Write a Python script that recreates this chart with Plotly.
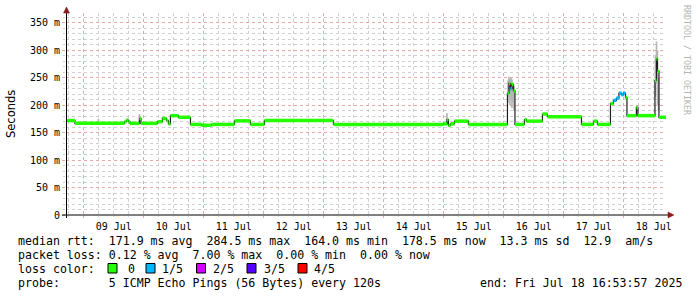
import plotly.graph_objects as go
import pandas as pd

# ---------------- data ----------------
med_time = ["2025-07-08 16:54", "2025-07-08 20:29", "2025-07-09 16:17", "2025-07-09 17:05",
            "2025-07-09 17:53", "2025-07-09 18:29", "2025-07-09 22:17", "2025-07-09 22:53",
            "2025-07-10 05:29", "2025-07-10 07:29", "2025-07-10 09:05", "2025-07-10 09:53",
            "2025-07-10 10:41", "2025-07-10 13:53", "2025-07-10 18:41", "2025-07-10 23:05",
            "2025-07-11 03:05", "2025-07-11 12:17", "2025-07-11 18:41", "2025-07-12 00:17",
            "2025-07-13 03:53", "2025-07-14 23:53", "2025-07-15 01:17", "2025-07-15 01:53",
            "2025-07-15 02:41", "2025-07-15 04:17", "2025-07-15 09:53", "2025-07-16 01:29",
            "2025-07-16 02:05", "2025-07-16 02:41", "2025-07-16 03:17", "2025-07-16 03:53",
            "2025-07-16 04:29", "2025-07-16 08:17", "2025-07-16 09:05", "2025-07-16 15:29",
            "2025-07-16 17:29", "2025-07-17 07:05", "2025-07-17 11:53", "2025-07-17 13:29",
            "2025-07-17 18:41", "2025-07-17 19:53", "2025-07-17 21:05", "2025-07-17 22:05",
            "2025-07-17 23:05", "2025-07-17 23:53", "2025-07-18 00:41", "2025-07-18 01:17",
            "2025-07-18 05:05", "2025-07-18 05:41", "2025-07-18 12:29", "2025-07-18 13:05",
            "2025-07-18 13:29", "2025-07-18 14:05", "2025-07-18 16:54"]
med_ms = [172, 167, 170, 173, 170, 167, 176, 167,
          170, 176, 172, 166, 181, 178, 165, 163.5,
          165, 171.5, 165, 172, 165, 166, 174, 163,
          166, 171, 165, 222, 240, 230, 238, 226,
          165, 174, 171, 184, 179, 165, 171, 165,
          203, 209, 213, 222, 219, 222, 214, 181,
          196, 181, 245, 284, 262, 178, 178]
med_loss = [0, 0, 0, 0, 0, 0, 0, 0,
            0, 0, 0, 0, 0, 0, 0, 0,
            0, 0, 0, 0, 0, 0, 0, 0,
            0, 0, 0, 0, 0, 1, 0, 0,
            0, 0, 0, 0, 0, 0, 0, 0,
            0, 1, 1, 1, 1, 1, 0, 0,
            0, 0, 0, 0, 0, 0, 0]

smoke_time = ["2025-07-09 05:53", "2025-07-09 22:17", "2025-07-15 01:17",
              "2025-07-16 01:41", "2025-07-16 02:05", "2025-07-16 02:29", "2025-07-16 02:53",
              "2025-07-16 03:17", "2025-07-16 03:41", "2025-07-16 04:05",
              "2025-07-18 05:05", "2025-07-18 12:41", "2025-07-18 13:05", "2025-07-18 13:29",
              "2025-07-18 13:53"]
smoke_lo_ms = [167, 167, 165, 205, 215, 200, 210, 195, 205, 190, 182, 215, 240, 200, 190]
smoke_hi_ms = [175, 184, 186, 245, 252, 248, 250, 247, 240, 235, 198, 290, 316, 300, 250]

loss_labels = ["0", "1/5", "2/5", "3/5", "4/5"]
loss_colors = ["#26ff00", "#00b8ff", "#d400ff", "#5500ff", "#ff0000"]

y_tick_vals = [0, 0.05, 0.10, 0.15, 0.20, 0.25, 0.30, 0.35]
y_tick_text = ["0", "50 m", "100 m", "150 m", "200 m", "250 m", "300 m", "350 m"]

x_start = "2025-07-08 16:53:57"
x_end = "2025-07-18 16:53:57"

legend_lines = [
    "median rtt:  171.9 ms avg  284.5 ms max  164.0 ms min  178.5 ms now  13.3 ms sd  12.9  am/s",
    "packet loss: 0.12 % avg  7.00 % max  0.00 % min  0.00 % now",
    "loss color:",
    "probe:       5 ICMP Echo Pings (56 Bytes) every 120s",
]
end_text = "end: Fri Jul 18 16:53:57 2025"

# ---------------- geometry helpers ----------------
W, H = 697, 297
L, R, T, B = 66, 31, 13, 82
PW, PH = W - L - R, H - T - B


def px(x):
    return (x - L) / PW


def py(y):
    return (H - B - y) / PH


t = pd.to_datetime(med_time)
v = [m / 1000 for m in med_ms]

fig = go.Figure()

# smoke
sx, sy = [], []
for tt, lo, hi in zip(pd.to_datetime(smoke_time), smoke_lo_ms, smoke_hi_ms):
    sx += [tt, tt, None]
    sy += [lo / 1000, hi / 1000, None]
fig.add_trace(go.Scatter(x=sx, y=sy, mode="lines", line=dict(color="#b4b4b4", width=1.6),
                         hoverinfo="skip", showlegend=False))

# black median line
fig.add_trace(go.Scatter(x=t, y=v, mode="lines", line=dict(color="#202020", width=1.2, shape="hv"),
                         hoverinfo="skip", showlegend=False))

# coloured loss bands
for li, col in enumerate(loss_colors):
    xs, ys = [], []
    for i in range(len(t) - 1):
        if med_loss[i] == li:
            xs += [t[i], t[i + 1], None]
            ys += [v[i], v[i], None]
    if xs:
        fig.add_trace(go.Scatter(x=xs, y=ys, mode="lines", line=dict(color=col, width=3.5),
                                 hoverinfo="skip", showlegend=False))

mono = "DejaVu Sans Mono"
ann = []
shapes = []

# y title
ann.append(dict(text="Seconds", xref="paper", yref="paper", x=px(11), y=py(114),
                xanchor="center", yanchor="middle", textangle=-90, showarrow=False,
                font=dict(family="DejaVu Sans", size=11.5, color="#000000")))
# watermark
ann.append(dict(text="RRDTOOL / TOBI OETIKER", xref="paper", yref="paper", x=px(687), y=py(60),
                xanchor="center", yanchor="middle", textangle=90, showarrow=False,
                font=dict(family=mono, size=8.3, color="#b4b4b4")))
# legend text
for i, line in enumerate(legend_lines):
    ann.append(dict(text=line.replace(" ", "\u00a0"), xref="paper", yref="paper",
                    x=px(16), y=py(241 + 14 * i), xanchor="left", yanchor="middle",
                    showarrow=False, font=dict(family=mono, size=11.6, color="#000000")))
ann.append(dict(text=end_text.replace(" ", "\u00a0"), xref="paper", yref="paper",
                x=px(478), y=py(283), xanchor="left", yanchor="middle",
                showarrow=False, font=dict(family=mono, size=11.6, color="#000000")))
box_x = [108, 146, 196.5, 247, 298]
lab_x = [126, 160, 211, 262, 312]
for lab, col, bx, lx in zip(loss_labels, loss_colors, box_x, lab_x):
    shapes.append(dict(type="rect", xref="paper", yref="paper", x0=px(bx), x1=px(bx + 9),
                       y0=py(273), y1=py(263.5), fillcolor=col, line=dict(color="#000000", width=1)))
    ann.append(dict(text=lab, xref="paper", yref="paper", x=px(lx), y=py(269),
                    xanchor="left", yanchor="middle", showarrow=False,
                    font=dict(family=mono, size=11.6, color="#000000")))

# axis lines and arrows
shapes.append(dict(type="line", xref="paper", yref="paper", x0=px(62), x1=px(668), y0=py(215), y1=py(215),
                   line=dict(color="#000000", width=1)))
shapes.append(dict(type="line", xref="paper", yref="paper", x0=px(66.5), x1=px(66.5), y0=py(218), y1=py(11),
                   line=dict(color="#000000", width=1)))
shapes.append(dict(type="path", xref="paper", yref="paper",
                   path=f"M {px(668)} {py(212)} L {px(674)} {py(215)} L {px(668)} {py(218)} Z",
                   fillcolor="#8b1a1a", line=dict(color="#8b1a1a", width=0.5)))
shapes.append(dict(type="path", xref="paper", yref="paper",
                   path=f"M {px(63.5)} {py(13)} L {px(66.5)} {py(7)} L {px(69.5)} {py(13)} Z",
                   fillcolor="#8b1a1a", line=dict(color="#8b1a1a", width=0.5)))

fig.update_layout(
    width=W, height=H, margin=dict(l=L, r=R, t=T, b=B),
    paper_bgcolor="#ffffff", plot_bgcolor="#ffffff",
    showlegend=False, annotations=ann, shapes=shapes,
    xaxis=dict(type="date", range=[x_start, x_end], dtick=86400000, tick0="2025-07-09",
               tickformat="%d %b", ticklabelmode="period",
               showgrid=True, gridcolor="#e8a8a8", griddash="dot", gridwidth=1,
               ticks="outside", ticklen=2, tickcolor="#e8a8a8",
               minor=dict(dtick=21600000, showgrid=True, gridcolor="#d0d0d0", griddash="dot",
                          ticks="outside", ticklen=1, tickcolor="#d0d0d0"),
               tickfont=dict(family=mono, size=10, color="#000000"),
               showline=False, zeroline=False, fixedrange=True),
    yaxis=dict(range=[0, 0.368], tickvals=y_tick_vals, ticktext=y_tick_text,
               showgrid=True, gridcolor="#e8a8a8", griddash="dot", gridwidth=1,
               ticks="outside", ticklen=3, tickcolor="#e8a8a8",
               minor=dict(dtick=0.01, showgrid=True, gridcolor="#d0d0d0", griddash="dot",
                          ticks="outside", ticklen=2, tickcolor="#d0d0d0"),
               tickfont=dict(family=mono, size=10, color="#000000"),
               showline=False, zeroline=False, fixedrange=True),
)

fig.write_html("out.html")
